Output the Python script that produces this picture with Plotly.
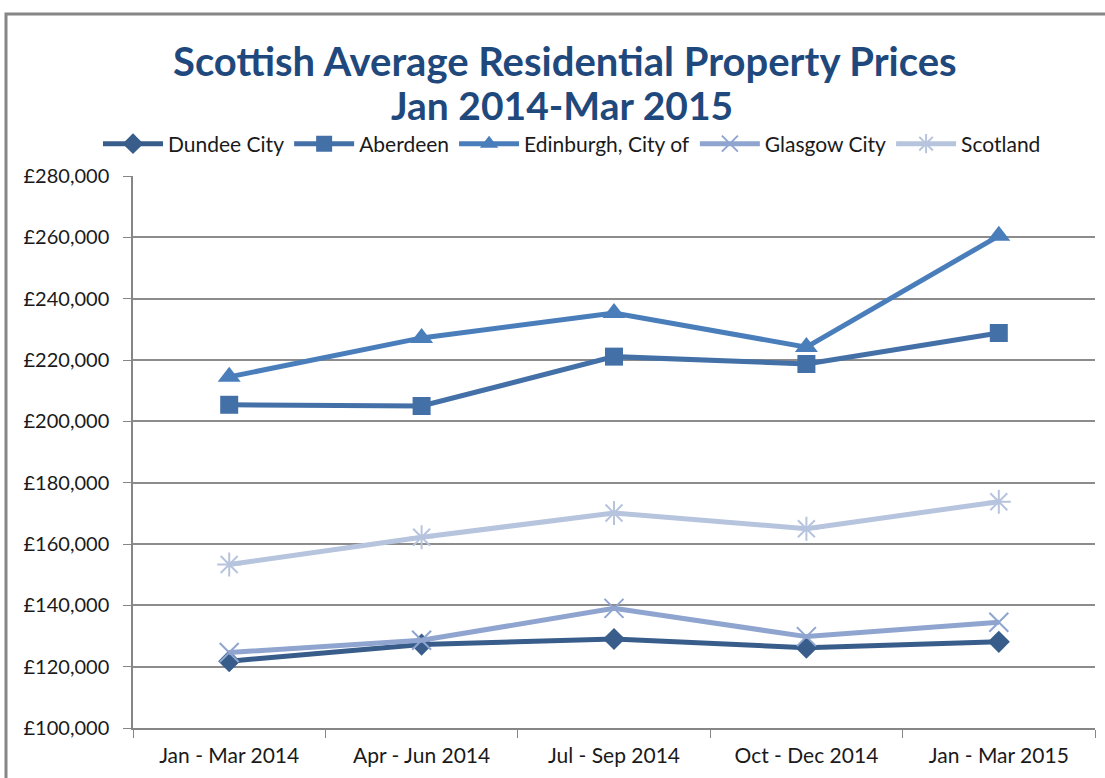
import plotly.graph_objects as go

periods = ["Jan - Mar 2014", "Apr - Jun 2014", "Jul - Sep 2014", "Oct - Dec 2014", "Jan - Mar 2015"]
dundee = [121800, 127200, 129000, 126200, 128100]
aberdeen = [205400, 205000, 221100, 218700, 228800]
edinburgh = [214500, 227200, 235300, 224200, 260500]
glasgow = [124600, 128600, 139000, 129800, 134500]
scotland = [153300, 162200, 170100, 165000, 173800]

title_line1 = "Scottish Average Residential Property Prices"
title_line2 = "Jan 2014-Mar 2015"

series = [
    ("Dundee City", dundee, "#385D8A", "diamond", 17, 0),
    ("Aberdeen", aberdeen, "#4470A8", "square", 18, 0),
    ("Edinburgh, City of", edinburgh, "#4A7EBB", "triangle-up", 20, 0),
    ("Glasgow City", glasgow, "#8FA5CF", "x-thin-open", 19, 2),
    ("Scotland", scotland, "#B7C4DE", "asterisk-open", 20, 2),
]

fig = go.Figure()
for name, vals, col, sym, size, lw in series:
    marker = dict(symbol=sym, size=size, color=col)
    if lw:
        marker["line"] = dict(color=col, width=lw)
    else:
        marker["line"] = dict(width=0)
    fig.add_trace(go.Scatter(x=periods, y=vals, name=name, mode="lines+markers",
                             line=dict(color=col, width=5), marker=marker))

L, T, W, H = 133, 176, 962, 552
def py(px):
    return 1 + (T - px) / H

fig.update_layout(
    width=1105, height=778,
    margin=dict(l=L, r=1105 - L - W, t=T, b=778 - T - H),
    paper_bgcolor="white", plot_bgcolor="white",
    font=dict(family="Lato, Calibri, sans-serif", color="#1a1a1a"),
    legend=dict(orientation="h", x=(572 - L) / W, xanchor="center", y=py(144), yanchor="middle",
                font=dict(size=21, color="#1a1a1a"), itemwidth=60, traceorder="normal",
                tracegroupgap=0),
    showlegend=True,
)
fig.add_annotation(text=title_line1, xref="paper", yref="paper",
                   x=(565 - L) / W, y=py(61), xanchor="center", yanchor="middle",
                   showarrow=False,
                   font=dict(size=40, color="#1F497D", family="Lato, sans-serif", weight="bold"))
fig.add_annotation(text=title_line2, xref="paper", yref="paper",
                   x=(562 - L) / W, y=py(105), xanchor="center", yanchor="middle",
                   showarrow=False,
                   font=dict(size=39, color="#1F497D", family="Lato, sans-serif", weight="bold"))

fig.update_xaxes(type="category", range=[-0.5, 4.5], showgrid=False,
                 showline=True, linecolor="#868686", linewidth=1.5,
                 ticks="outside", tickson="boundaries", ticklen=8, tickcolor="#868686",
                 ticklabelstandoff=8,
                 tickfont=dict(size=21, color="#1a1a1a"))
fig.update_yaxes(range=[100000, 280000], dtick=20000, tickprefix="£", tickformat=",",
                 showgrid=True, gridcolor="#8C8C8C", gridwidth=1.5,
                 showline=True, linecolor="#868686", linewidth=1.5,
                 ticks="outside", ticklen=8, tickcolor="#868686",
                 ticklabelstandoff=10,
                 tickfont=dict(size=20, color="#1a1a1a"), zeroline=False)

# outer chart frame (right/bottom edges cropped in reference)
x0 = (6 - L) / W
x1 = (1120 - L) / W
y1 = py(14)
y0 = -(800 - T - H) / H
fig.add_shape(type="rect", xref="paper", yref="paper", x0=x0, x1=x1, y0=y0, y1=y1,
              line=dict(color="#868686", width=3), fillcolor="rgba(0,0,0,0)", layer="below")

fig.write_html("out.html", config={"displayModeBar": False},
               post_script="document.body.style.margin='0px';document.body.style.overflow='hidden';")
